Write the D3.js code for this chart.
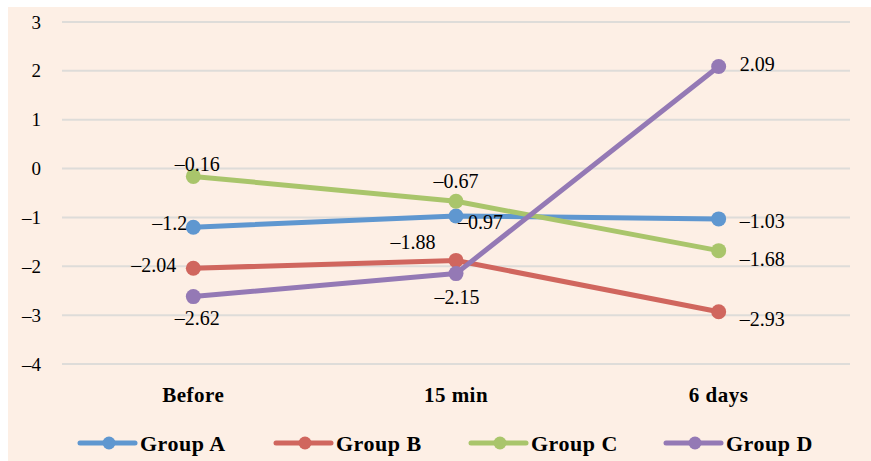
<!DOCTYPE html>
<html><head><meta charset="utf-8">
<script src="https://cdn.jsdelivr.net/npm/d3@7"></script>
<style>
html,body{margin:0;padding:0;background:#fff;}
svg{display:block;}
text{font-family:"Liberation Serif","Times New Roman",serif;fill:#000;}
</style></head>
<body>
<script>
const categories = ["Before", "15 min", "6 days"];
const seriesNames = ["Group A", "Group B", "Group C", "Group D"];
const groupA = [-1.2, -0.97, -1.03];
const groupB = [-2.04, -1.88, -2.93];
const groupC = [-0.16, -0.67, -1.68];
const groupD = [-2.62, -2.15, 2.09];
const yTicks = [3, 2, 1, 0, -1, -2, -3, -4];
const colors = ["#5f97d0", "#d0665e", "#a9c56b", "#9479b5"];
// label placements: [dx, dy, anchor]
const labelPos = [
  [[-6, -4, "end"], [2, 7, "start"], [21, 3, "start"]],
  [[-17, -3, "end"], [-43, -18, "middle"], [21, 8, "start"]],
  [[4, -12, "middle"], [0, -20, "middle"], [21, 9, "start"]],
  [[4, 22, "middle"], [1, 24, "middle"], [21, -2, "start"]]
];

const W = 871, H = 461;
const svg = d3.select("body").append("svg").attr("width", W).attr("height", H);
svg.append("rect").attr("x", 8).attr("y", 7).attr("width", W - 8).attr("height", H - 7).attr("fill", "#fdefe5");

const x = d3.scaleBand().domain(categories).range([62, 850]);
const y = d3.scaleLinear().domain([-4, 3]).range([364, 22]);

// gridlines
svg.append("g").selectAll("line").data(yTicks).join("line")
  .attr("x1", 62).attr("x2", 850)
  .attr("y1", d => y(d)).attr("y2", d => y(d))
  .attr("stroke", "#dedcd9").attr("stroke-width", 2);

const fmt = d => d < 0 ? "\u2013" + Math.abs(d) : String(d);

// y axis labels
const yAxis = d3.axisLeft(y).tickValues(yTicks).tickSize(0).tickPadding(0).tickFormat(fmt);
const ya = svg.append("g").attr("transform", "translate(41,0)").call(yAxis);
ya.select(".domain").remove();
ya.selectAll("text").attr("font-size", 19).attr("fill", "#000").attr("dy", "0.32em");

// x axis labels
const xAxis = d3.axisBottom(x).tickSize(0).tickPadding(0);
const xa = svg.append("g").attr("transform", "translate(0,395)").call(xAxis);
xa.select(".domain").remove();
xa.selectAll("text").attr("font-size", 21).attr("font-weight", "bold").attr("letter-spacing", 0.5).attr("fill", "#000").attr("dy", "0.35em");

const allSeries = [groupA, groupB, groupC, groupD];
const cx = c => x(c) + x.bandwidth() / 2;
const line = d3.line().x((d, i) => cx(categories[i])).y(d => y(d));

allSeries.forEach((vals, si) => {
  const g = svg.append("g");
  g.append("path").datum(vals).attr("d", line).attr("fill", "none")
    .attr("stroke", colors[si]).attr("stroke-width", 5).attr("stroke-linejoin", "round").attr("stroke-linecap", "round");
  g.selectAll("circle").data(vals).join("circle")
    .attr("cx", (d, i) => cx(categories[i])).attr("cy", d => y(d)).attr("r", 7.5).attr("fill", colors[si]);
});
allSeries.forEach((vals, si) => {
  svg.append("g").selectAll("text").data(vals).join("text")
    .attr("x", (d, i) => cx(categories[i]) + labelPos[si][i][0])
    .attr("y", (d, i) => y(d) + labelPos[si][i][1])
    .attr("dy", "0.32em")
    .attr("text-anchor", (d, i) => labelPos[si][i][2])
    .attr("font-size", 20)
    .text(fmt);
});

// legend
const legendX = [80, 276, 471, 666];
const lg = svg.append("g");
seriesNames.forEach((n, i) => {
  const g = lg.append("g").attr("transform", `translate(${legendX[i]},443)`);
  g.append("line").attr("x1", 0).attr("x2", 55).attr("stroke", colors[i]).attr("stroke-width", 5).attr("stroke-linecap", "round");
  g.append("circle").attr("cx", 29).attr("r", 6.5).attr("fill", colors[i]);
  g.append("text").attr("x", 60).attr("dy", "0.35em").attr("font-size", 22).attr("font-weight", "bold").attr("letter-spacing", 0.5).text(n);
});
</script>
</body></html>
